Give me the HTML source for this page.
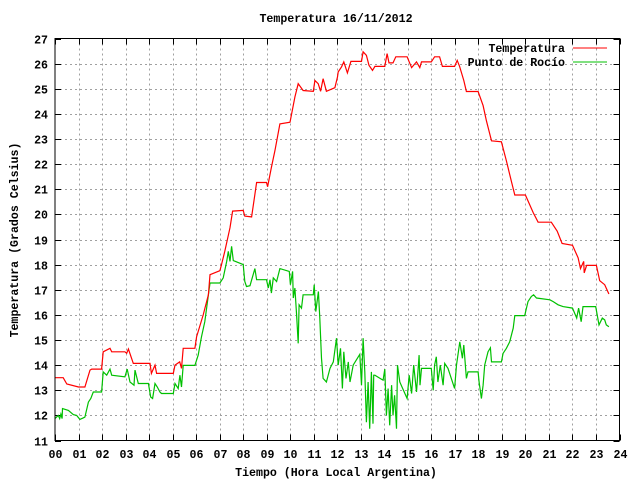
<!DOCTYPE html>
<html><head><meta charset="utf-8"><style>
html,body{margin:0;padding:0;background:#fff}
svg text{font-family:"Liberation Mono","DejaVu Sans Mono",monospace;font-size:11.6px;font-weight:bold;fill:#000}
</style></head><body>
<svg id="chart" width="640" height="480" viewBox="0 0 640 480" xmlns="http://www.w3.org/2000/svg">
<rect width="640" height="480" fill="#fff"/>
<g id="grid"></g>
<g id="ticks"></g>
<g id="series"></g>
<rect x="55" y="38.5" width="564.5" height="402" fill="none" stroke="#000" stroke-width="1"/>
<text x="336" y="22" text-anchor="middle">Temperatura 16/11/2012</text>
<text x="336" y="476" text-anchor="middle">Tiempo (Hora Local Argentina)</text>
<text x="18" y="240" text-anchor="middle" transform="rotate(-90 18 240)">Temperatura (Grados Celsius)</text>
<g>
<text x="565" y="52" text-anchor="end">Temperatura</text>
<line x1="573" y1="48" x2="607" y2="48" stroke="#f00" stroke-width="1"/>
<text x="565" y="66" text-anchor="end">Punto de Rocío</text>
<line x1="573" y1="62" x2="607" y2="62" stroke="#00c000" stroke-width="1"/>
</g>
</svg>
<script>
const xTicks=["00","01","02","03","04","05","06","07","08","09","10","11","12","13","14","15","16","17","18","19","20","21","22","23","24"];
const yTicks=[11,12,13,14,15,16,17,18,19,20,21,22,23,24,25,26,27];
const tempHours=[0,0.35,0.5,1.0,1.27,1.49,1.56,1.98,2.05,2.34,2.41,2.97,3.05,3.12,3.33,4.04,4.1,4.25,4.32,5.03,5.1,5.3,5.38,5.45,5.95,6.02,6.3,6.52,6.59,7.01,7.08,7.22,7.44,7.55,8.0,8.07,8.36,8.5,8.57,8.99,9.04,9.2,9.35,9.56,9.99,10.2,10.34,10.55,10.98,11.05,11.19,11.29,11.4,11.54,11.9,12.01,12.04,12.18,12.28,12.43,12.58,13.03,13.1,13.24,13.35,13.5,13.6,14.02,14.12,14.2,14.37,14.49,14.97,15.16,15.37,15.51,15.58,16.0,16.14,16.35,16.47,16.99,17.1,17.2,17.38,17.49,17.99,18.2,18.34,18.56,18.98,19.19,19.4,19.55,20.0,20.33,20.54,21.1,21.35,21.56,22.0,22.24,22.34,22.48,22.5,22.6,23.02,23.16,23.37,23.55];
const tempValues=[13.5,13.5,13.25,13.13,13.13,13.8,13.84,13.84,14.53,14.67,14.53,14.53,14.47,14.64,14.07,14.07,13.67,14.0,13.67,13.67,14.0,14.13,13.87,14.67,14.67,15.13,16.0,16.8,17.6,17.76,18.0,18.53,19.47,20.13,20.16,19.93,19.9,20.8,21.27,21.27,21.1,21.87,22.53,23.6,23.67,24.67,25.2,24.93,24.9,25.33,25.2,24.9,25.4,24.9,25.04,25.47,25.67,25.87,26.07,25.63,26.09,26.09,26.47,26.33,25.93,25.73,25.89,25.89,26.4,26.03,26.03,26.27,26.27,25.84,26.07,25.84,26.07,26.07,26.27,26.27,25.89,25.89,26.13,25.89,25.33,24.89,24.89,24.33,23.73,22.93,22.89,22.13,21.33,20.77,20.77,20.07,19.69,19.69,19.33,18.84,18.77,18.27,17.84,18.13,17.67,17.97,17.97,17.36,17.2,16.83];
const dewHours=[0,0.14,0.2,0.25,0.3,0.32,0.57,0.78,0.92,1.06,1.2,1.27,1.42,1.52,1.63,1.98,2.05,2.2,2.34,2.41,2.97,3.07,3.19,3.36,3.4,3.54,3.97,4.07,4.15,4.25,4.35,4.46,4.53,5.03,5.1,5.24,5.31,5.38,5.45,5.95,6.09,6.23,6.37,6.52,6.59,7.01,7.15,7.3,7.37,7.44,7.51,7.58,8.0,8.07,8.14,8.29,8.5,8.57,8.99,9.07,9.14,9.2,9.28,9.42,9.56,9.96,10.01,10.1,10.13,10.2,10.27,10.34,10.38,10.48,10.55,10.98,11.02,11.09,11.2,11.26,11.33,11.4,11.47,11.54,11.69,11.83,11.97,12.04,12.14,12.22,12.28,12.37,12.47,12.54,12.68,12.96,13.03,13.1,13.17,13.24,13.31,13.38,13.45,13.52,13.55,13.6,13.95,14.02,14.09,14.16,14.23,14.31,14.37,14.44,14.52,14.56,14.66,14.97,15.06,15.16,15.25,15.37,15.48,15.52,15.58,16.0,16.08,16.14,16.21,16.28,16.38,16.5,16.57,16.71,16.99,17.07,17.21,17.32,17.38,17.49,17.56,17.99,18.03,18.13,18.2,18.27,18.41,18.51,18.56,18.98,19.05,19.19,19.33,19.48,19.55,19.97,20.11,20.25,20.35,20.47,21.04,21.18,21.39,21.6,22.0,22.18,22.26,22.37,22.45,22.99,23.13,23.27,23.37,23.44,23.55];
const dewValues=[11.87,12.0,11.87,12.05,11.87,12.27,12.2,12.03,12.0,11.84,11.9,11.93,12.53,12.67,12.93,12.93,13.73,13.6,13.84,13.6,13.53,13.84,13.33,13.2,13.8,13.27,13.27,12.73,12.67,13.27,13.13,12.93,12.87,12.87,13.27,13.07,13.6,13.13,13.99,13.99,14.4,15.13,15.73,16.8,17.27,17.27,17.47,18.13,18.53,18.13,18.73,18.16,18.0,17.33,17.13,17.16,17.84,17.4,17.4,17.07,17.4,16.87,17.47,17.33,17.84,17.73,17.2,17.73,16.67,17.07,16.0,14.87,16.4,16.27,16.8,16.8,17.2,16.13,16.93,15.87,14.27,13.47,13.4,13.33,13.87,14.13,15.07,14.0,14.67,13.07,14.53,13.47,14.13,13.33,14.0,14.43,13.2,15.07,13.73,11.73,13.33,11.47,13.73,11.67,13.6,13.6,13.4,13.84,12.0,13.07,11.6,13.2,12.0,12.8,11.47,14.0,13.33,12.67,13.6,12.87,14.0,12.93,14.4,13.2,13.87,13.87,13.0,14.0,14.33,13.33,14.0,13.2,14.07,13.87,13.07,14.0,14.93,14.27,14.8,13.47,13.73,13.73,13.33,12.67,13.2,14.0,14.53,14.69,14.13,14.13,14.47,14.67,14.93,15.47,15.97,15.97,16.53,16.73,16.8,16.67,16.6,16.53,16.4,16.33,16.27,15.87,16.27,15.73,16.33,16.33,15.6,15.87,15.8,15.6,15.53];
const X0=55,X1=619.5,Y0=440.5,Y1=38.5;
function xs(h){return X0+(h-0)/24*(X1-X0);}
function ys(v){return Y0-(v-11)/16*(Y0-Y1);}
const NS="http://www.w3.org/2000/svg";
const grid=document.getElementById('grid'),ticks=document.getElementById('ticks'),series=document.getElementById('series');
function mk(tag,attrs,parent){const e=document.createElementNS(NS,tag);for(const k in attrs)e.setAttribute(k,attrs[k]);parent.appendChild(e);return e;}
xTicks.forEach((t,i)=>{
  const x=Math.round(xs(i))+0.5;
  if(i>0&&i<24){const g=mk('line',{x1:x,y1:Y1,x2:x,y2:Y0,stroke:'#a0a0a0','stroke-dasharray':'2,3'},grid);
    
    }
  const a=mk('line',{x1:x,y1:Y0,x2:x,y2:Y0-6,stroke:'#000'},ticks);
  
  
  const b=mk('line',{x1:x,y1:Y1,x2:x,y2:Y1+6,stroke:'#000'},ticks);
  
  
  const tx=mk('text',{x:x,y:458,'text-anchor':'middle'},ticks);tx.textContent=t;
  
  
});
yTicks.forEach(v=>{
  const y=Math.round(ys(v))+0.5;
  if(v>11&&v<27){const g=mk('line',{x1:X0,y1:y,x2:X1,y2:y,stroke:'#a0a0a0','stroke-dasharray':'2,3'},grid);
    
    }
  const a=mk('line',{x1:X0,y1:y,x2:X0+6,y2:y,stroke:'#000'},ticks);
  
  
  const b=mk('line',{x1:X1,y1:y,x2:X1-6,y2:y,stroke:'#000'},ticks);
  
  
  const tx=mk('text',{x:48,y:y+4,'text-anchor':'end'},ticks);tx.textContent=v;
  
  
});
function line(hs,vs,color,name){
  const pts=hs.map((h,i)=>xs(h).toFixed(1)+','+ys(vs[i]).toFixed(1)).join(' ');
  const p=mk('polyline',{points:pts,fill:'none',stroke:color,'stroke-width':1.2,'stroke-linejoin':'miter'},series);
  
  
}
line(dewHours,dewValues,'#00c000','dew-point-line');
line(tempHours,tempValues,'#ff0000','temperature-line');
</script>
</body></html>
